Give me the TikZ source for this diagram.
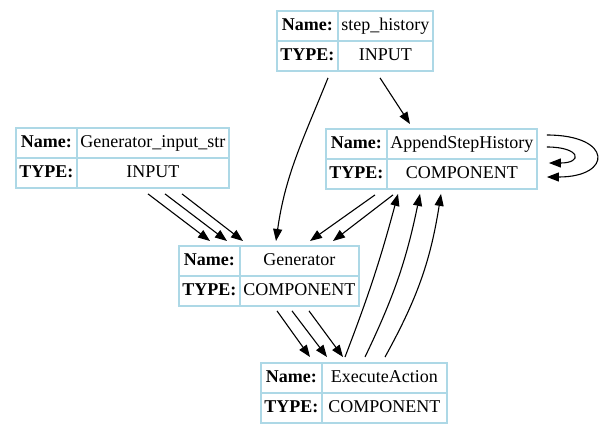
\documentclass[tikz,border=0pt]{standalone}
\usepackage{fontspec}
\setmainfont{Liberation Serif}
\usetikzlibrary{arrows.meta,matrix}
\definecolor{cellblue}{RGB}{173,216,230}

\begin{document}
\begin{tikzpicture}[
  x=1pt, y=1pt,
  font=\fontsize{18}{21}\selectfont,
  tbl/.style={matrix of nodes, anchor=north west, inner sep=0pt,
              column sep=-1.5pt, row sep=-1.5pt,
              nodes={draw=cellblue, line width=1.5pt, minimum height=30pt,
                     text height=12.5pt, text depth=4pt, inner sep=1pt},
              column 1/.style={nodes={font=\fontsize{18}{21}\selectfont\bfseries,
                                      minimum width=61pt}}},
  valw/.style={column 2/.style={nodes={minimum width=#1}}},
  arr/.style={-{Triangle[length=12pt,width=9pt]}, line width=1.1pt}
]
\useasboundingbox (0,0) rectangle (602,-432);

\matrix[tbl, valw=95pt] (hist) at (276,-10) {
  Name: & step\_history \\
  TYPE: & INPUT \\
};
\matrix[tbl, valw=152pt] (genin) at (15,-127) {
  Name: & Generator\_input\_str \\
  TYPE: & INPUT \\
};
\matrix[tbl, valw=150pt] (append) at (325,-128) {
  Name: & AppendStepHistory \\
  TYPE: & COMPONENT \\
};
\matrix[tbl, valw=119pt] (gen) at (178,-245) {
  Name: & Generator \\
  TYPE: & COMPONENT \\
};
\matrix[tbl, valw=125pt] (exec) at (260,-362) {
  Name: & ExecuteAction \\
  TYPE: & COMPONENT \\
};

% step_history
\draw[arr] ([shift={(52,-6)}]hist.south west) to[out=-112, in=82] ([shift={(98,4)}]gen.north west);
\draw[arr] ([shift={(104,-6)}]hist.south west) -- ([shift={(85,4)}]append.north west);

% Generator_input_str -> Generator
\draw[arr] ([shift={(133,-5)}]genin.south west) -- ([shift={(32,4)}]gen.north west);
\draw[arr] ([shift={(150,-5)}]genin.south west) -- ([shift={(49,4)}]gen.north west);
\draw[arr] ([shift={(167,-5)}]genin.south west) -- ([shift={(65,4)}]gen.north west);

% AppendStepHistory -> Generator
\draw[arr] ([shift={(50,-5)}]append.south west) -- ([shift={(132,4)}]gen.north west);
\draw[arr] ([shift={(68,-5)}]append.south west) -- ([shift={(155,4)}]gen.north west);

% Generator -> ExecuteAction
\draw[arr] ([shift={(99,-4)}]gen.south west) -- ([shift={(50,5)}]exec.north west);
\draw[arr] ([shift={(114,-4)}]gen.south west) -- ([shift={(67,5)}]exec.north west);
\draw[arr] ([shift={(131,-4)}]gen.south west) -- ([shift={(83,5)}]exec.north west);

% ExecuteAction -> AppendStepHistory
\draw[arr] ([shift={(85,5)}]exec.north west) to[bend right=3] ([shift={(73,-4)}]append.south west);
\draw[arr] ([shift={(105,5)}]exec.north west) to[bend right=7] ([shift={(95,-4)}]append.south west);
\draw[arr] ([shift={(125,5)}]exec.north west) to[bend right=10] ([shift={(116,-4)}]append.south west);

% self loops
\draw[arr] ([shift={(9,-7)}]append.north east) .. controls +(66,0) and +(66,0) .. ([shift={(9,-49)}]append.north east);
\draw[arr] ([shift={(9,-19)}]append.north east) .. controls +(34,0) and +(34,0) .. ([shift={(11,-35)}]append.north east);
\end{tikzpicture}
\end{document}
